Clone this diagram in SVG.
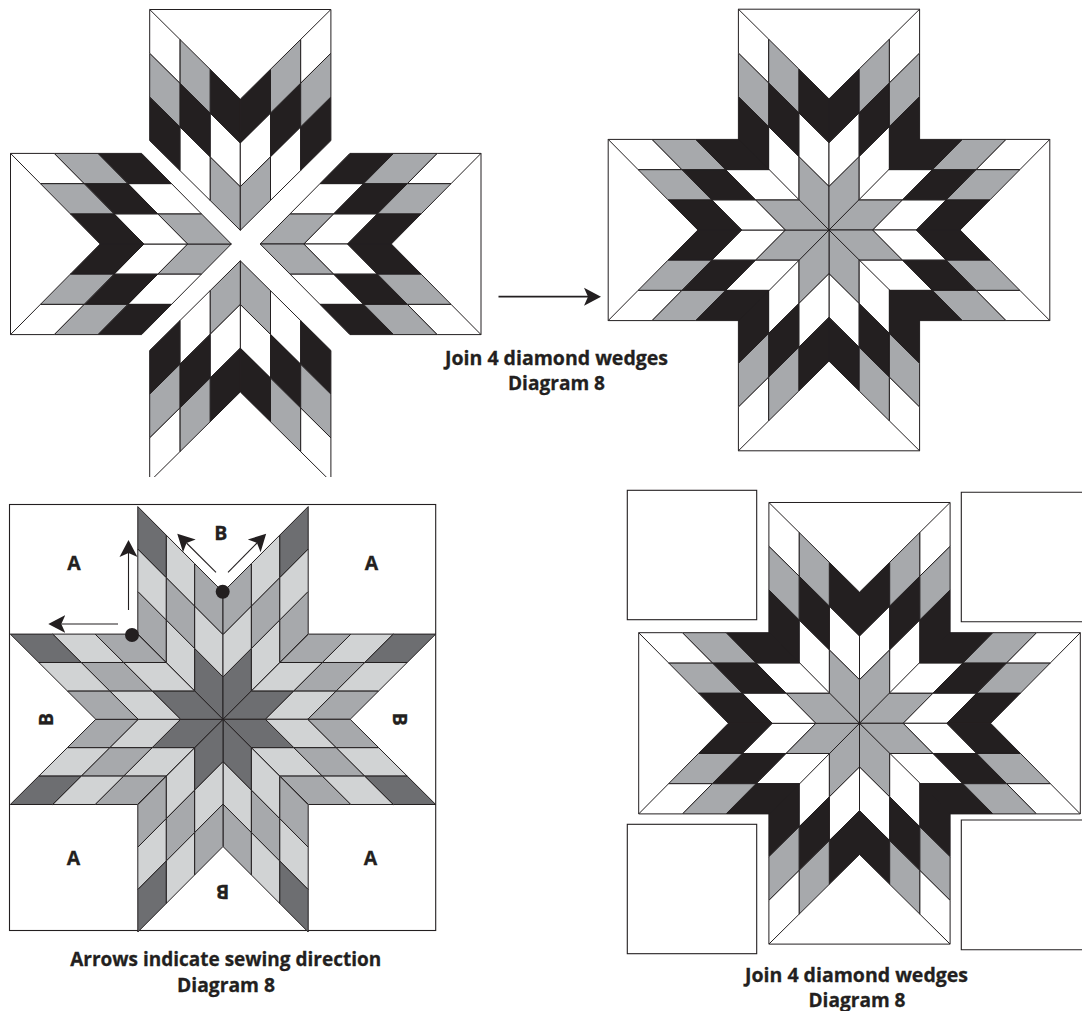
<svg xmlns="http://www.w3.org/2000/svg" width="1082" height="1011" viewBox="0 0 1082 1011">
<style>
polygon,.ln{stroke:#231f20;stroke-width:1}
.ln{fill:none}
.g{fill:#a7a9ac}.w{fill:#fff}.k{fill:#231f20}
.d{fill:#6d6e71}.m{fill:#a7a9ac}.l{fill:#d1d3d4}
.sq{fill:#fff;stroke:#231f20;stroke-width:1.1}
.arr{stroke:#231f20;stroke-width:1.1;fill:none;marker-end:url(#head)}
.dot{fill:#231f20}
text{font-family:"Open Sans","Noto Sans","Liberation Sans",sans-serif;font-weight:700;font-size:19.5px;fill:#231f20;stroke:#231f20;stroke-width:.3}
</style>
<defs>
<marker id="head" markerUnits="userSpaceOnUse" viewBox="0 -10 18 20" markerWidth="18" markerHeight="20" refX="4" refY="0" orient="auto"><path d="M0-9L17 0L0 9L4 0Z" fill="#231f20"/></marker>
<clipPath id="cutBottom"><rect x="0" y="0" width="1082" height="477"/></clipPath>
<g id="bA">
<polygon class="g" points="0,0 0,-43.7 -30.2,-73.6 -30.2,-29.9"/>
<polygon class="w" points="0,-43.7 0,-87.4 -30.2,-117.3 -30.2,-73.6"/>
<polygon class="k" points="0,-87.4 0,-131.1 -30.2,-161 -30.2,-117.3"/>
<polygon class="w" points="-30.2,-29.9 -30.2,-73.6 -60.4,-103.5 -60.4,-59.8"/>
<polygon class="k" points="-30.2,-73.6 -30.2,-117.3 -60.4,-147.2 -60.4,-103.5"/>
<polygon class="g" points="-30.2,-117.3 -30.2,-161 -60.4,-190.9 -60.4,-147.2"/>
<polygon class="k" points="-60.4,-59.8 -60.4,-103.5 -90.6,-133.4 -90.6,-89.7"/>
<polygon class="g" points="-60.4,-103.5 -60.4,-147.2 -90.6,-177.1 -90.6,-133.4"/>
<polygon class="w" points="-60.4,-147.2 -60.4,-190.9 -90.6,-220.8 -90.6,-177.1"/>
</g>
<g id="bB">
<polygon class="d" points="0,0 0,-42.4 -28.4,-70.9 -28.4,-28.5"/>
<polygon class="l" points="0,-42.4 0,-84.8 -28.4,-113.3 -28.4,-70.9"/>
<polygon class="m" points="0,-84.8 0,-127.2 -28.4,-155.7 -28.4,-113.3"/>
<polygon class="l" points="-28.4,-28.5 -28.4,-70.9 -56.8,-99.4 -56.8,-57"/>
<polygon class="m" points="-28.4,-70.9 -28.4,-113.3 -56.8,-141.8 -56.8,-99.4"/>
<polygon class="l" points="-28.4,-113.3 -28.4,-155.7 -56.8,-184.2 -56.8,-141.8"/>
<polygon class="m" points="-56.8,-57 -56.8,-99.4 -85.2,-127.9 -85.2,-85.5"/>
<polygon class="l" points="-56.8,-99.4 -56.8,-141.8 -85.2,-170.3 -85.2,-127.9"/>
<polygon class="d" points="-56.8,-141.8 -56.8,-184.2 -85.2,-212.7 -85.2,-170.3"/>
</g>
<g id="wA"><use href="#bA"/><use href="#bA" transform="scale(-1,1)"/><line class="ln" x1="-90.6" y1="-220.8" x2="90.6" y2="-220.8"/></g>
<g id="wB"><use href="#bB"/><use href="#bB" transform="scale(-1,1)"/></g>
<g id="starA"><use href="#wA"/><use href="#wA" transform="rotate(90)"/><use href="#wA" transform="rotate(180)"/><use href="#wA" transform="rotate(-90)"/></g>
</defs>
<rect width="1082" height="1011" fill="#fff"/>

<g id="exploded-wedges">
<g id="wedge-top"><use href="#wA" transform="translate(240.3,230.3)"/></g>
<g id="wedge-left"><use href="#wA" transform="translate(231.3,244) rotate(-90)"/></g>
<g id="wedge-right"><use href="#wA" transform="translate(260.2,244) rotate(90)"/></g>
<g id="wedge-bottom" clip-path="url(#cutBottom)"><use href="#wA" transform="translate(240.3,260.8) rotate(180)"/></g>
</g>

<g id="star-joined"><use href="#starA" transform="translate(829,230)"/></g>

<g id="star-sewing">
<rect class="sq" x="9.5" y="504.5" width="426.2" height="426"/>
<g transform="translate(223,719.3)"><use href="#wB"/><use href="#wB" transform="rotate(90)"/><use href="#wB" transform="rotate(180)"/><use href="#wB" transform="rotate(-90)"/></g>
<circle class="dot" cx="132" cy="635" r="7"/>
<circle class="dot" cx="222.7" cy="591.7" r="7"/>
<text x="74" y="570" text-anchor="middle">A</text>
<text x="371.5" y="570" text-anchor="middle">A</text>
<text x="73.5" y="865" text-anchor="middle">A</text>
<text x="370.5" y="865" text-anchor="middle">A</text>
<text x="220.7" y="540" text-anchor="middle">B</text>
<text text-anchor="middle" transform="translate(52.7,719.5) rotate(-90)">B</text>
<text text-anchor="middle" transform="translate(392.7,719.3) rotate(90)">B</text>
<text text-anchor="middle" transform="translate(222.7,885) rotate(180)">B</text>
</g>

<g id="star-setting">
<rect class="sq" x="627.3" y="490.3" width="129.4" height="129.4"/>
<path class="sq" d="M1083 492.3H961.3V621.7H1083"/>
<rect class="sq" x="627.3" y="824.3" width="129.4" height="129.4"/>
<path class="sq" d="M1083 820H961.3V949.7H1083"/>
<use href="#starA" transform="translate(859.5,723.3)"/>
</g>

<g id="connectors">
<line x1="498.5" y1="296.7" x2="588" y2="296.7" stroke="#231f20" stroke-width="1.8" marker-end="url(#head)"/>
<line class="arr" x1="128.5" y1="610" x2="128.5" y2="553"/>
<line class="arr" x1="118" y1="624" x2="61.3" y2="624"/>
<line class="arr" x1="216" y1="572.3" x2="186.5" y2="543"/>
<line class="arr" x1="228" y1="572.3" x2="257" y2="543"/>
</g>

<g id="captions">
<text x="556.5" y="365" text-anchor="middle" textLength="223" lengthAdjust="spacingAndGlyphs">Join 4 diamond wedges</text>
<text x="556.5" y="390" text-anchor="middle" textLength="97" lengthAdjust="spacingAndGlyphs">Diagram 8</text>
<text x="225.7" y="965.7" text-anchor="middle" textLength="311" lengthAdjust="spacingAndGlyphs">Arrows indicate sewing direction</text>
<text x="226" y="991.7" text-anchor="middle" textLength="98" lengthAdjust="spacingAndGlyphs">Diagram 8</text>
<text x="856.5" y="981.7" text-anchor="middle" textLength="223" lengthAdjust="spacingAndGlyphs">Join 4 diamond wedges</text>
<text x="857" y="1007" text-anchor="middle" textLength="97" lengthAdjust="spacingAndGlyphs">Diagram 8</text>
</g>
</svg>
